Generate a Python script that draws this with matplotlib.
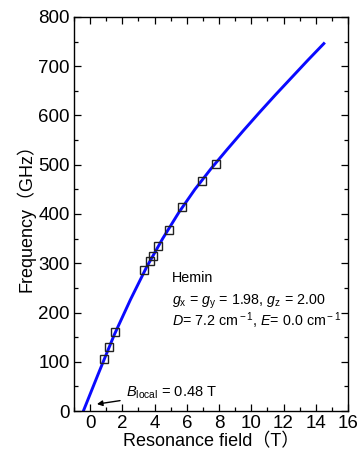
import matplotlib
matplotlib.use("Agg")
import matplotlib.pyplot as plt
from matplotlib.ticker import MultipleLocator

plt.rcParams['font.family'] = ['Liberation Sans', 'Noto Sans CJK SC', 'DejaVu Sans']
plt.rcParams['mathtext.fontset'] = 'custom'
plt.rcParams['mathtext.rm'] = 'Liberation Sans'
plt.rcParams['mathtext.it'] = 'Liberation Sans:italic'

# measured resonance points
field_pts = [0.89, 1.20, 1.57, 3.37, 3.73, 3.89, 4.24, 4.90, 5.69, 6.94, 7.80]
freq_pts = [106, 129, 160, 287, 305, 315, 336, 368, 415, 468, 501]

# simulated curve
field_sim = [-0.42, 0.5, 1.5, 2.5, 3.5, 4.5, 5.5, 6.5, 7.5, 8.5, 9.5, 10.5, 11.5, 12.5, 13.5, 14.5]
freq_sim = [0, 75, 155, 226, 292, 350, 403, 450, 492, 531, 569, 606, 642, 677, 712, 746]

x_ticks = [0, 2, 4, 6, 8, 10, 12, 14, 16]
y_ticks = [0, 100, 200, 300, 400, 500, 600, 700, 800]

fig = plt.figure(figsize=(3.6, 4.53), dpi=100)
ax = fig.add_axes([0.2056, 0.0927, 0.7611, 0.8698])

ax.plot(field_sim, freq_sim, color='#0a0aff', lw=2.1, zorder=2)
ax.plot(field_pts, freq_pts, 's', mfc='none', mec='#222222', ms=5.5, mew=1.0, zorder=3)

ax.set_xlim(-1, 16)
ax.set_ylim(0, 800)
ax.set_xticks(x_ticks)
ax.set_yticks(y_ticks)
ax.xaxis.set_minor_locator(MultipleLocator(1))
ax.yaxis.set_minor_locator(MultipleLocator(50))
ax.tick_params(which='both', direction='in', top=True, right=True, width=0.9)
ax.tick_params(which='major', length=5, labelsize=13.5, pad=3)
ax.tick_params(which='minor', length=3)
for s in ax.spines.values():
    s.set_linewidth(1.0)

ax.set_xlabel('Resonance field（T）', fontsize=13, labelpad=1)
ax.set_ylabel('Frequency（GHz）', fontsize=13, labelpad=2)

ax.text(5.1, 261, 'Hemin', fontsize=10.3)
ax.text(5.1, 217, r'$g_{\rm x}$ = $g_{\rm y}$ = 1.98, $g_{\rm z}$ = 2.00', fontsize=10.3)
ax.text(5.1, 172, r'$D$= 7.2 cm$^{\rm -1}$, $E$= 0.0 cm$^{\rm -1}$', fontsize=10.3)

ax.annotate(r'$B_{\rm local}$ = 0.48 T', xy=(0.42, 14), xytext=(2.2, 29),
            fontsize=10.5, va='baseline',
            arrowprops=dict(arrowstyle='-|>', color='black', lw=1.0,
                            shrinkA=2, shrinkB=0, mutation_scale=8))

fig.savefig('out.png', dpi=100)
